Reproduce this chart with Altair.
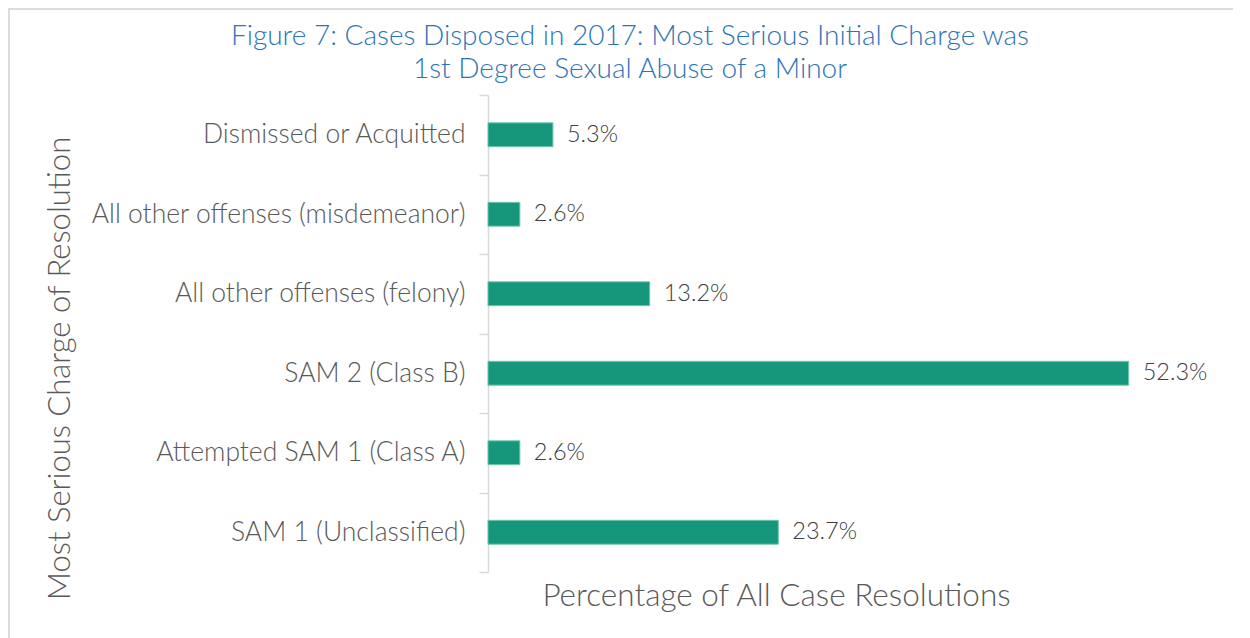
import altair as alt
import pandas as pd

categories = [
    "Dismissed or Acquitted",
    "All other offenses (misdemeanor)",
    "All other offenses (felony)",
    "SAM 2 (Class B)",
    "Attempted SAM 1 (Class A)",
    "SAM 1 (Unclassified)",
]
values = [5.3, 2.6, 13.2, 52.3, 2.6, 23.7]
value_labels = ["5.3%", "2.6%", "13.2%", "52.3%", "2.6%", "23.7%"]
title_lines = [
    "Figure 7: Cases Disposed in 2017: Most Serious Initial Charge was",
    "1st Degree Sexual Abuse of a Minor",
]

df = pd.DataFrame({"cat": categories, "val": values, "lab": value_labels})
one = pd.DataFrame({"k": [0]})

FONT = "Lato"
GRAY = "#595959"
BORDER = "#dcdcdc"

y_enc = alt.Y(
    "cat:N",
    sort=categories,
    scale=alt.Scale(paddingInner=0, paddingOuter=0),
    axis=alt.Axis(
        title="Most Serious Charge of Resolution",
        titleFont=FONT,
        titleFontSize=31,
        titleFontWeight=300,
        titleColor=GRAY,
        titleAngle=-90,
        titleAlign="center",
        titleBaseline="middle",
        titleX=-428,
        titleY=273,
        labelFont=FONT,
        labelFontSize=26.5,
        labelFontWeight=300,
        labelColor=GRAY,
        labelPadding=14,
        labelLimit=420,
        domainColor="#d9d9d9",
        domainWidth=1.5,
        tickColor="#d9d9d9",
        tickWidth=1.5,
        tickSize=9,
        tickBand="extent",
    ),
)

x_enc = alt.X(
    "val:Q",
    scale=alt.Scale(domain=[0, 60], nice=False),
    axis=alt.Axis(
        title="Percentage of All Case Resolutions",
        titleFont=FONT,
        titleFontSize=31.5,
        titleFontWeight=300,
        titleColor=GRAY,
        titleX=288,
        titleY=24,
        titleAlign="center",
        titleBaseline="middle",
        labels=False,
        ticks=False,
        domain=False,
        grid=False,
    ),
)

bars = alt.Chart(df).mark_bar(
    color="#16967a", stroke="#6fc7ae", strokeWidth=1, height=alt.RelativeBandSize(0.3)
).encode(x=x_enc, y=y_enc)

text = alt.Chart(df).mark_text(
    align="left", baseline="middle", dx=14, font=FONT, fontSize=23.5, fontWeight=300, color="#404040"
).encode(x="val:Q", y=alt.Y("cat:N", sort=categories), text="lab:N")

top_border = alt.Chart(one).mark_rule(color=BORDER, strokeWidth=2, clip=False).encode(
    x=alt.value(-480), x2=alt.value(762), y=alt.value(-86)
)
left_border = alt.Chart(one).mark_rule(color=BORDER, strokeWidth=2, clip=False).encode(
    x=alt.value(-479), y=alt.value(-87), y2=alt.value(560)
)

title1 = alt.Chart(one).mark_text(
    text=title_lines[0], font=FONT, fontSize=28, fontWeight=300, color="#2e74b5",
    align="center", baseline="middle",
).encode(x=alt.value(142), y=alt.value(-58))
title2 = alt.Chart(one).mark_text(
    text=title_lines[1], font=FONT, fontSize=28, fontWeight=300, color="#2e74b5",
    align="center", baseline="middle",
).encode(x=alt.value(142), y=alt.value(-25))

chart = (
    alt.layer(top_border, left_border, title1, title2, bars, text)
    .properties(
        width=735,
        height=477,
        padding={"left": 480, "top": 87, "right": 10, "bottom": 70},
        autosize=alt.AutoSizeParams(type="none"),
        background="white",
    )
    .configure_view(stroke="transparent", strokeWidth=0)
)

chart.save("out.html", embed_options={"renderer": "svg", "actions": False})
